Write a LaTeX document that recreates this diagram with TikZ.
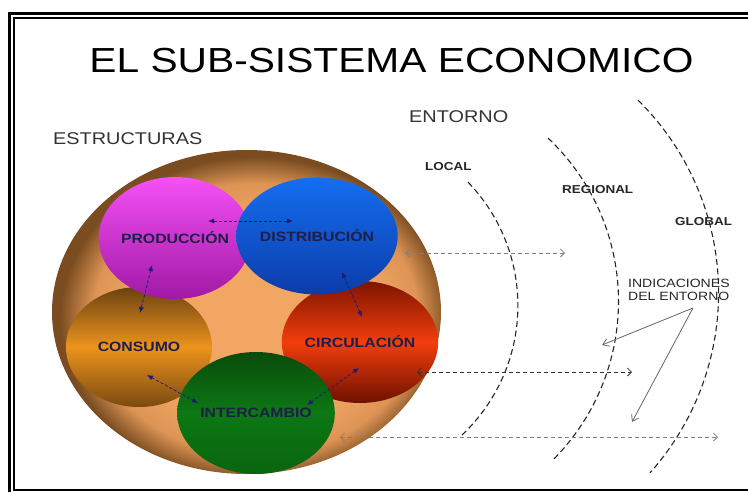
\documentclass[tikz,border=0pt]{standalone}
\usepackage{fontspec}
\setmainfont{Liberation Sans}[FakeStretch=1.17]
\usetikzlibrary{shapes.geometric,arrows.meta,calc}
\definecolor{tanL}{HTML}{F2A663}
\definecolor{tanM}{HTML}{DD9455}
\definecolor{tanD}{HTML}{7A4C20}
\definecolor{navy}{HTML}{1C1C78}
\definecolor{lbl}{HTML}{1E1E48}
\definecolor{consT}{HTML}{6B4210}
\definecolor{consM}{HTML}{EC931C}
\definecolor{consB}{HTML}{7A4A10}
\definecolor{circT}{HTML}{7E1400}
\definecolor{circM}{HTML}{F23E0C}
\definecolor{circB}{HTML}{6E1000}
\definecolor{prodT}{HTML}{F550F5}
\definecolor{prodB}{HTML}{A019A5}
\definecolor{distT}{HTML}{146EF0}
\definecolor{distB}{HTML}{0C3CAA}
\definecolor{intT}{HTML}{0A4B0C}
\definecolor{intM}{HTML}{0C7814}
\definecolor{intB}{HTML}{0A640F}
\pgfdeclareradialshading{brownball}{\pgfpoint{2bp}{-2bp}}{color(0bp)=(tanL); color(15bp)=(tanL); color(21bp)=(tanM); color(25bp)=(tanD); color(50bp)=(tanD)}
\begin{document}
\begin{tikzpicture}[x=1pt,y=-1pt,
  blob/.style={ellipse, inner sep=0pt, font=\bfseries\fontsize{13.5}{15}\selectfont, text=lbl},
  innerarrow/.style={navy, line width=0.8pt, dash pattern=on 3pt off 2pt, {Latex[length=6pt,width=5pt]}-{Latex[length=6pt,width=5pt]}},
  longarrow/.style={line width=0.8pt, dash pattern=on 4pt off 3pt, {Straight Barb[length=4pt,width=8pt]}-{Straight Barb[length=4pt,width=8pt]}},
  ring/.style={line width=1.1pt, black!85, dash pattern=on 6pt off 3.5pt},
  pointer/.style={gray!80!black, line width=0.8pt, -{Straight Barb[length=6pt,width=8pt]}},
  level/.style={font=\bfseries\fontsize{11.5}{13}\selectfont, text=black!85, inner sep=0pt, anchor=base west},
  head/.style={font=\fontsize{17}{20}\selectfont, text=black!80, inner sep=0pt, anchor=base west}
]
\useasboundingbox (0,0) rectangle (748,491);
% frame
\draw[line width=3pt] (760,13.5) -- (9.5,13.5) -- (9.5,500);
\draw[line width=2pt] (760,18) -- (14,18) -- (14,489.5) -- (760,489.5);
% title and headings
\node[font=\fontsize{34.8}{40}\selectfont, inner sep=0pt, anchor=base] (title) at (391.5,72) {EL SUB-SISTEMA ECONOMICO};
\node[head] (estr) at (53,144) {ESTRUCTURAS};
\node[head] (ent) at (409,122) {ENTORNO};
\node[level] (local) at (425,170) {LOCAL};
\node[level] (regional) at (562,193) {REGIONAL};
\node[level] (global) at (675,225) {GLOBAL};
\node[font=\fontsize{12}{13}\selectfont, inner sep=0pt, anchor=base west, text=black!85] (ind1) at (628,287) {INDICACIONES};
\node[font=\fontsize{12}{13}\selectfont, inner sep=0pt, anchor=base west, text=black!85] (ind2) at (628,300) {DEL ENTORNO};
% rings
\draw[ring] plot[domain=-44:47.6, samples=80] ({340.2+177.7*cos(\x)}, {305.6+177.7*sin(\x)});
\draw[ring] plot[domain=-46.7:44.9, samples=90] ({394+224.5*cos(\x)}, {301.4+224.5*sin(\x)});
\draw[ring] plot[domain=-45.4:41.7, samples=100] ({448+270.6*cos(\x)}, {292.8+270.6*sin(\x)});
% structures
\node[ellipse, minimum width=389pt, minimum height=324pt, inner sep=0pt, shading=brownball] (struct) at (246.5,312) {};
\node[blob, minimum width=146pt, minimum height=120pt, top color=consT, bottom color=consB, middle color=consM] (cons) at (139,347) {CONSUMO};
\node[blob, minimum width=145pt, minimum height=122pt, top color=circT, bottom color=circB, middle color=circM] (circ) at (360,342) {CIRCULACIÓN};
\node[blob, minimum width=145pt, minimum height=122pt, top color=prodT, bottom color=prodB] (prod) at (175,238) {PRODUCCIÓN};
\node[blob, minimum width=147pt, minimum height=117pt, top color=distT, bottom color=distB] (dist) at (317,236) {DISTRIBUCIÓN};
\node[blob, minimum width=147pt, minimum height=122pt, top color=intT, bottom color=intB, middle color=intM] (inter) at (256,413) {INTERCAMBIO};
% inner arrows
\draw[innerarrow] ($(prod)+(33,-17)$) -- ($(dist)+(-24,-15)$);
\draw[innerarrow] ($(prod)+(-23,27)$) -- ($(cons)+(1,-34)$);
\draw[innerarrow] ($(dist)+(25,36)$) -- ($(circ)+(2,-25)$);
\draw[innerarrow] ($(cons)+(8,28)$) -- ($(inter)+(-58,-10)$);
\draw[innerarrow] ($(circ)+(-1,26)$) -- ($(inter)+(51,-8)$);
% environment arrows
\coordinate (a1) at (405,253); \coordinate (b1) at (565,253);
\coordinate (a2) at (417,372); \coordinate (b2) at (632,372);
\coordinate (a3) at (340,437); \coordinate (b3) at (718,437);
\draw[longarrow, gray] (a1) -- (b1);
\draw[longarrow, black!80] (a2) -- (b2);
\draw[longarrow, gray] (a3) -- (b3);
\coordinate (src) at (693,308);
\coordinate (t1) at (602,345);
\coordinate (t2) at (632,422);
\draw[pointer] (src) -- (t1);
\draw[pointer] (src) -- (t2);
\end{tikzpicture}
\end{document}
